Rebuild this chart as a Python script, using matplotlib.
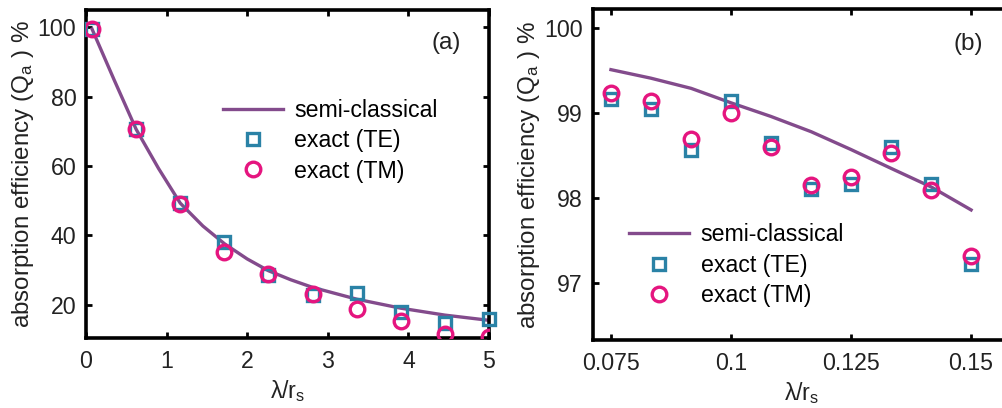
import matplotlib
matplotlib.use("Agg")
import matplotlib.pyplot as plt

plt.rcParams['font.family'] = ['Liberation Sans', 'DejaVu Sans']
plt.rcParams['mathtext.default'] = 'regular'

# Panel (a)
xa = [0.075, 0.622, 1.169, 1.717, 2.264, 2.811, 3.358, 3.906, 4.453, 5.0]
te_a = [99.6, 70.8, 49.3, 38.2, 28.5, 22.9, 23.3, 18.0, 14.7, 15.9]
tm_a = [99.4, 70.6, 49.1, 35.3, 28.9, 23.0, 18.7, 15.2, 11.5, 10.6]
xa_line = [0.075, 0.35, 0.622, 0.9, 1.169, 1.45, 1.717, 2.0, 2.264, 2.54, 2.811, 3.358, 3.906, 4.453, 5.0]
semi_a = [99.5, 84.8, 70.6, 59.3, 49.3, 42.7, 37.6, 33.2, 29.8, 27.2, 25.0, 21.6, 19.0, 17.0, 15.5]

# Panel (b)
xb = [0.075, 0.0833, 0.0917, 0.1, 0.1083, 0.1167, 0.125, 0.1333, 0.1417, 0.15]
te_b = [99.16, 99.05, 98.57, 99.14, 98.65, 98.11, 98.16, 98.60, 98.16, 97.22]
tm_b = [99.24, 99.14, 98.69, 99.00, 98.60, 98.15, 98.25, 98.53, 98.09, 97.32]
semi_b = [99.51, 99.41, 99.29, 99.12, 98.96, 98.78, 98.57, 98.35, 98.13, 97.86]

xticks_a = [0, 1, 2, 3, 4, 5]
yticks_a = [20, 40, 60, 80, 100]
xticks_b = [0.075, 0.1, 0.125, 0.15]
xticklabels_b = ['0.075', '0.1', '0.125', '0.15']
yticks_b = [97, 98, 99, 100]

line_c = '#834b8c'
te_c = '#2a82a6'
tm_c = '#e5157f'
fs = 16.7

fig = plt.figure(figsize=(10.02, 4.08), dpi=100)
axa = fig.add_axes([86/1002, 70/408, 403/1002, 328/408])
axb = fig.add_axes([592.7/1002, 68/408, 417.3/1002, 330.7/408])

ylabel = 'absorption efficiency (Q$_{a}$ ) %'
xlabel = 'λ/r$_{s}$'

def style(ax):
    for s in ax.spines.values():
        s.set_linewidth(2.6)
    ax.tick_params(direction='in', top=True, right=True, length=4, width=2,
                   labelsize=fs, labelcolor='#222222')
    ax.tick_params(axis='y', pad=7)
    ax.tick_params(axis='x', pad=9)
    ax.set_ylabel(ylabel, fontsize=17.4, labelpad=1.5, color='#222222')
    ax.set_xlabel(xlabel, fontsize=fs, labelpad=3, color='#222222')

axa.plot(xa_line, semi_a, color=line_c, lw=2.4, label='semi-classical', zorder=2)
axa.plot(xa, te_a, ls='none', marker='s', ms=9, mfc='none', mec=te_c, mew=2.4,
         label='exact (TE)', zorder=3, clip_on=False)
axa.plot(xa, tm_a, ls='none', marker='o', ms=10.5, mfc='none', mec=tm_c, mew=2.4,
         label='exact (TM)', zorder=4, clip_on=True)
axa.set_xlim(0, 5)
axa.set_ylim(10.4, 105)
axa.set_xticks(xticks_a)
axa.set_yticks(yticks_a)
style(axa)
axa.text(0.93, 0.9, '(a)', transform=axa.transAxes, fontsize=17.5, ha='right', va='center',
         color='#222222')
axa.legend(loc='upper left', bbox_to_anchor=(0.31, 0.765), frameon=False, fontsize=fs,
           handlelength=2.6, handletextpad=0.5, labelspacing=0.32, borderpad=0)

axb.plot(xb, semi_b, color=line_c, lw=2.4, label='semi-classical', zorder=2)
axb.plot(xb, te_b, ls='none', marker='s', ms=9, mfc='none', mec=te_c, mew=2.4,
         label='exact (TE)', zorder=3)
axb.plot(xb, tm_b, ls='none', marker='o', ms=10.5, mfc='none', mec=tm_c, mew=2.4,
         label='exact (TM)', zorder=4)
axb.set_xlim(0.0712, 0.1581)
axb.set_ylim(96.33, 100.22)
axb.set_xticks(xticks_b)
axb.set_xticklabels(xticklabels_b)
axb.set_yticks(yticks_b)
style(axb)
axb.text(0.935, 0.895, '(b)', transform=axb.transAxes, fontsize=17.5, ha='right', va='center',
         color='#222222')
axb.legend(loc='upper left', bbox_to_anchor=(0.0585, 0.3875), frameon=False, fontsize=fs,
           handlelength=2.6, handletextpad=0.5, labelspacing=0.32, borderpad=0)

fig.savefig('out.png', dpi=100)
